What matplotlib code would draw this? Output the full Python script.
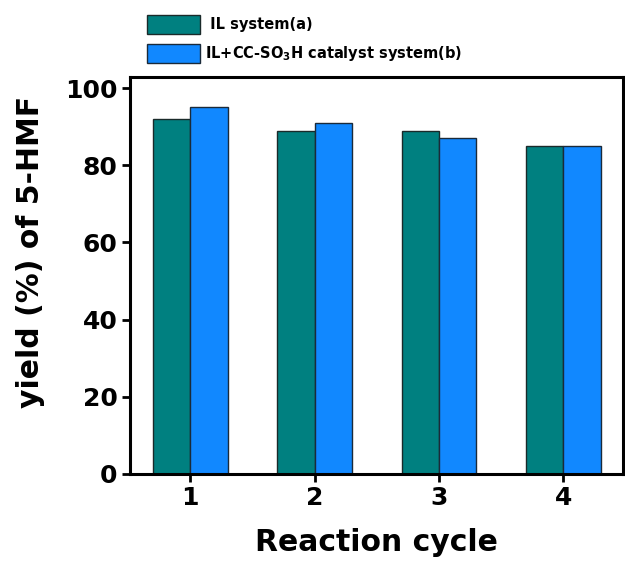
import matplotlib
matplotlib.use("Agg")
import matplotlib.pyplot as plt
import numpy as np

cycles = [1, 2, 3, 4]
il_yield = [92, 89, 89, 85]
il_cat_yield = [95, 91, 87, 85]
series_labels = [" IL system(a)", r"IL+CC-SO$_\mathbf{3}$H catalyst system(b)"]

plt.rcParams["font.family"] = ["DejaVu Sans"]
plt.rcParams["font.weight"] = "bold"
plt.rcParams["mathtext.fontset"] = "custom"
plt.rcParams["mathtext.rm"] = "DejaVu Sans:bold"
plt.rcParams["mathtext.bf"] = "DejaVu Sans:bold"

fig = plt.figure(figsize=(6.25, 5.62), dpi=100)
ax = fig.add_axes([0.208, 0.157, 0.789, 0.706])

x = np.array(cycles, dtype=float)
w = 0.30
ax.bar(x - w / 2, il_yield, width=w, color="#008080", edgecolor="#1a2a2a",
       linewidth=1.0, label=series_labels[0])
ax.bar(x + w / 2, il_cat_yield, width=w, color="#1188ff", edgecolor="#1a2a3a",
       linewidth=1.0, label=series_labels[1])

ax.set_xlim(0.515, 4.48)
ax.set_ylim(0, 102.9)
ax.set_xticks(cycles)
ax.set_yticks([0, 20, 40, 60, 80, 100])
ax.tick_params(axis="both", direction="out", length=6, width=2, labelsize=18, pad=3)
for lbl in ax.get_xticklabels() + ax.get_yticklabels():
    lbl.set_fontweight("bold")
for sp in ax.spines.values():
    sp.set_linewidth(2.2)

ax.set_xlabel("Reaction cycle", fontsize=21.5, fontweight="bold", labelpad=13)
ax.set_ylabel("yield (%) of 5-HMF", fontsize=21.5, fontweight="bold")
# label sits a little above the axes centre, close to the figure edge
ax.yaxis.set_label_coords(-0.172, 0.56)

fig.legend(loc="upper left", bbox_to_anchor=(147 / 625, 1 - 15 / 562), frameon=False,
           handlelength=3.63, handleheight=1.62, labelspacing=0.69,
           handletextpad=0.36, borderpad=0, borderaxespad=0,
           prop={"weight": "bold", "size": 10.5})

fig.savefig("out.png", dpi=100)
